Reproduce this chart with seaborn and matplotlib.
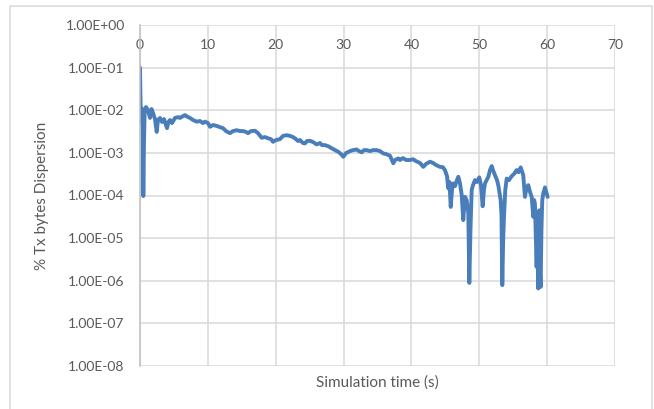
import matplotlib
matplotlib.use("Agg")
import matplotlib.pyplot as plt
from matplotlib.ticker import FixedLocator, FuncFormatter
from matplotlib.patches import Rectangle
import pandas as pd
import seaborn as sns

# Simulation time (s)
time_s = [
    0.00, 0.10, 0.19, 0.29, 0.40, 0.49, 0.59, 0.69, 0.88, 1.18, 1.47, 1.69, 1.92,
    2.21, 2.46, 2.65, 2.95, 3.24, 3.54, 3.98, 4.20, 4.42, 4.72, 5.16, 5.60, 5.89,
    6.34, 6.63, 7.07, 7.37, 7.81, 8.36, 8.84, 9.28, 9.58, 10.02, 10.32, 10.76,
    11.30, 11.79, 12.23, 12.67, 13.26, 13.70, 14.25, 14.74, 15.18, 15.62, 15.92,
    16.36, 16.95, 17.39, 17.93, 18.42, 18.86, 19.30, 19.60, 20.04, 20.63, 21.07,
    21.62, 22.10, 22.55, 22.99, 23.28, 23.58, 24.02, 24.31, 24.61, 25.05, 25.49,
    26.04, 26.53, 26.82, 27.26, 27.70, 28.25, 28.74, 29.22, 29.62, 29.96, 30.36,
    30.95, 31.39, 31.93, 32.27, 32.67, 33.01, 33.41, 33.89, 34.33, 34.88, 35.37,
    35.85, 36.25, 36.59, 36.84, 37.33, 37.58, 38.06, 38.31, 38.76, 39.20, 39.79,
    40.23, 40.67, 41.26, 41.75, 42.15, 42.73, 43.18, 43.62, 44.21, 44.65, 44.95,
    45.24, 45.43, 45.61, 45.79, 45.98, 46.17, 46.42, 46.71, 46.91, 47.16, 47.41,
    47.64, 47.89, 48.14, 48.38, 48.53, 48.70, 48.88, 49.07, 49.37, 49.66, 50.00,
    50.25, 50.50, 50.69, 50.84, 51.33, 51.58, 51.83, 52.02, 52.31, 52.61, 52.80,
    53.15, 53.27, 53.39, 53.52, 53.64, 53.83, 54.04, 54.38, 54.77, 55.11, 55.51,
    55.77, 56.10, 56.48, 56.73, 56.95, 57.22, 57.47, 57.72, 57.96, 58.08, 58.20,
    58.35, 58.45, 58.57, 58.69, 58.79, 58.84, 58.94, 59.04, 59.16, 59.28, 59.43,
    59.68, 59.93, 60.07,
]

# Dispersion of transmitted bytes (fraction)
dispersion = [
    1.0e-1, 1.0e-2, 5.3e-3, 1.1e-2, 4.5e-3, 9.7e-5, 2.0e-3, 9.1e-3, 1.19e-2, 1.0e-2,
    6.6e-3, 1.07e-2, 8.6e-3, 6.2e-3, 3.1e-3, 5.9e-3, 6.6e-3, 5.3e-3, 6.2e-3, 3.8e-3,
    5.3e-3, 5.9e-3, 5.0e-3, 6.6e-3, 6.9e-3, 6.6e-3, 7.3e-3, 7.7e-3, 6.9e-3, 6.6e-3,
    5.9e-3, 5.4e-3, 5.6e-3, 5.0e-3, 5.4e-3, 5.0e-3, 4.1e-3, 4.5e-3, 4.3e-3, 4.0e-3,
    3.8e-3, 3.25e-3, 2.9e-3, 3.25e-3, 3.4e-3, 3.25e-3, 3.25e-3, 3.1e-3, 2.9e-3,
    3.25e-3, 3.3e-3, 2.9e-3, 2.26e-3, 2.35e-3, 2.2e-3, 2.1e-3, 1.82e-3, 2.0e-3,
    2.1e-3, 2.5e-3, 2.6e-3, 2.5e-3, 2.35e-3, 2.1e-3, 1.9e-3, 2.0e-3, 1.7e-3, 1.67e-3,
    1.9e-3, 1.92e-3, 1.8e-3, 1.58e-3, 1.7e-3, 1.52e-3, 1.52e-3, 1.44e-3, 1.28e-3,
    1.16e-3, 1.06e-3, 9.4e-4, 8.1e-4, 9.9e-4, 1.1e-3, 1.16e-3, 1.2e-3, 1.1e-3,
    1.03e-3, 1.16e-3, 1.16e-3, 1.1e-3, 1.16e-3, 1.16e-3, 1.1e-3, 9.7e-4, 9.4e-4,
    8.9e-4, 8.55e-4, 5.7e-4, 6.8e-4, 7.4e-4, 6.8e-4, 7.55e-4, 6.8e-4, 6.8e-4, 7.1e-4,
    6.4e-4, 5.8e-4, 4.7e-4, 5.5e-4, 6.2e-4, 5.8e-4, 5.2e-4, 4.7e-4, 4.6e-4, 3.9e-4,
    2.85e-4, 1.47e-4, 2.07e-4, 5.4e-5, 1.34e-4, 1.92e-4, 1.66e-4, 2.3e-4, 2.75e-4,
    1.92e-4, 1.02e-4, 2.65e-5, 9.3e-5, 7.8e-5, 3.9e-5, 8.9e-7, 1.54e-5, 1.34e-4,
    1.75e-4, 2.3e-4, 2.07e-4, 2.66e-4, 1.75e-4, 5.6e-5, 1.34e-4, 1.92e-4, 2.75e-4,
    3.95e-4, 4.9e-4, 3.95e-4, 3.0e-4, 2.3e-4, 1.75e-4, 7.8e-5, 3.5e-5, 7.9e-7,
    9.0e-6, 3.16e-5, 1.34e-4, 2.5e-4, 2.3e-4, 2.85e-4, 3.2e-4, 3.95e-4, 3.5e-4,
    4.57e-4, 3.0e-4, 9.3e-5, 1.49e-4, 1.75e-4, 1.22e-4, 9.3e-5, 3.16e-5, 7.8e-5,
    6.5e-5, 9.0e-6, 2.1e-6, 2.65e-5, 6.6e-7, 9.0e-6, 4.5e-5, 1.8e-6, 7.2e-7,
    1.54e-5, 7.8e-5, 1.12e-4, 1.55e-4, 1.12e-4, 9.3e-5,
]

x_ticks = [0, 10, 20, 30, 40, 50, 60, 70]
y_ticks = [1e-8, 1e-7, 1e-6, 1e-5, 1e-4, 1e-3, 1e-2, 1e-1, 1e0]

df = pd.DataFrame({"Simulation time (s)": time_s, "% Tx bytes Dispersion": dispersion})

sns.set_theme(style="white")
plt.rcParams["font.family"] = ["Lato", "DejaVu Sans"]

text_color = "#595959"
grid_color = "#d9d9d9"

fig = plt.figure(figsize=(6.54, 4.09), dpi=100)
ax = fig.add_axes([140 / 654, 1 - 366 / 409, 475 / 654, 341 / 409])

sns.lineplot(data=df, x="Simulation time (s)", y="% Tx bytes Dispersion",
             ax=ax, sort=False, estimator=None, color="#4a7ebb", linewidth=2.8)

ax.set_yscale("log")
ax.set_xlim(0, 70)
ax.set_ylim(1e-8, 1e0)
ax.xaxis.set_major_locator(FixedLocator(x_ticks))
ax.yaxis.set_major_locator(FixedLocator(y_ticks))
ax.yaxis.set_minor_locator(FixedLocator([]))
ax.yaxis.set_major_formatter(FuncFormatter(lambda v, _: f"{v:.2E}"))

ax.grid(True, color=grid_color, linewidth=1.1)
ax.set_axisbelow(True)
for side in ["top", "right", "bottom"]:
    ax.spines[side].set_visible(False)
ax.spines["left"].set_color("#bfbfbf")
ax.spines["left"].set_linewidth(1.1)
ax.spines["left"].set_zorder(3)

# X tick labels sit just below the top edge, where the axis crosses at 1.00E+00
ax.tick_params(axis="x", length=0, labeltop=True, labelbottom=False, pad=-19,
               labelsize=10, labelcolor=text_color)
ax.tick_params(axis="y", length=0, pad=11, labelsize=10, labelcolor=text_color)

ax.set_xlabel("Simulation time (s)", fontsize=11, color=text_color, labelpad=7)
ax.set_ylabel("% Tx bytes Dispersion", fontsize=11, color=text_color, labelpad=12)
ax.xaxis.set_label_position("bottom")

# Chart-area border
fig.patches.append(Rectangle((10 / 654, -0.05), 642 / 654, 1.05 - 5.5 / 409,
                             transform=fig.transFigure, fill=False,
                             edgecolor="#d9d9d9", linewidth=1.1))

fig.savefig("out.png", dpi=100)
